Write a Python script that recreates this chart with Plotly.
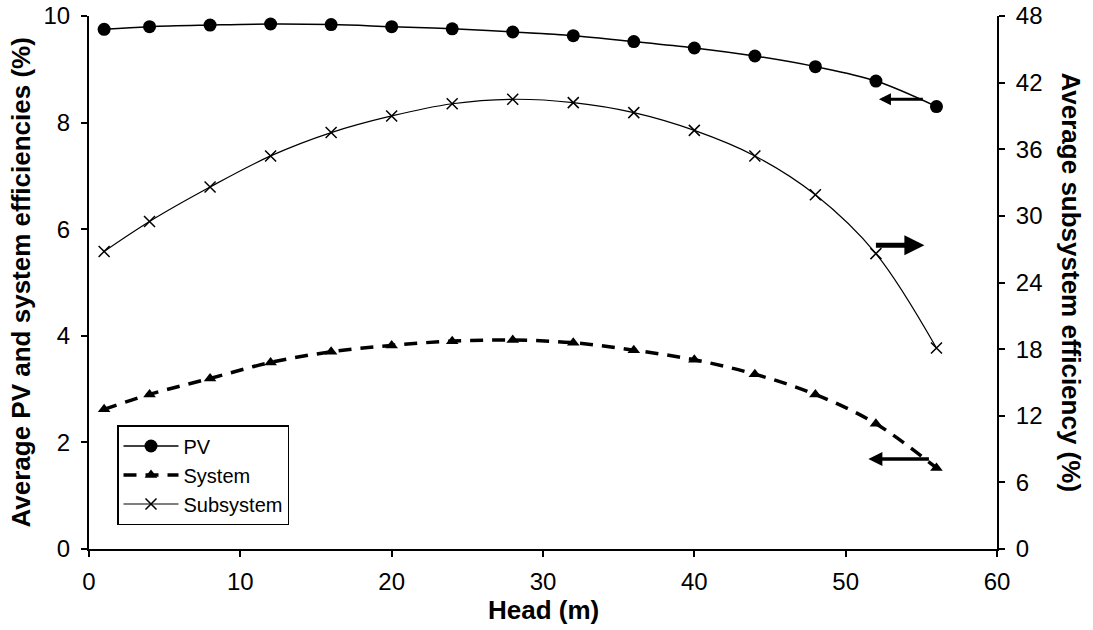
import plotly.graph_objects as go

head = [1, 4, 8, 12, 16, 20, 24, 28, 32, 36, 40, 44, 48, 52, 56]
pv = [9.75, 9.80, 9.83, 9.85, 9.84, 9.80, 9.76, 9.70, 9.63, 9.52, 9.40, 9.25, 9.05, 8.78, 8.30]
system = [2.62, 2.90, 3.20, 3.50, 3.70, 3.82, 3.90, 3.92, 3.87, 3.73, 3.55, 3.28, 2.90, 2.35, 1.52]
subsystem = [26.8, 29.5, 32.6, 35.4, 37.5, 39.0, 40.1, 40.5, 40.2, 39.3, 37.7, 35.4, 31.9, 26.6, 18.1]

x_ticks = [0, 10, 20, 30, 40, 50, 60]
y_ticks = [0, 2, 4, 6, 8, 10]
y2_ticks = [0, 6, 12, 18, 24, 30, 36, 42, 48]

FONT = "Liberation Sans, Arial, sans-serif"
TICK = 24
TITLE = 26

fig = go.Figure()
fig.add_trace(go.Scatter(
    x=head, y=pv, name="PV", mode="lines+markers",
    line=dict(color="black", width=1.5, shape="spline"),
    marker=dict(symbol="circle", size=13, color="black"),
))
fig.add_trace(go.Scatter(
    x=head, y=system, name="System", mode="lines+markers",
    line=dict(color="black", width=3.5, dash="13px,9px", shape="spline"),
    marker=dict(symbol="triangle-up", size=11, color="black"),
))
fig.add_trace(go.Scatter(
    x=head, y=subsystem, name="Subsystem", mode="lines+markers", yaxis="y2",
    line=dict(color="black", width=1.2, shape="spline"),
    marker=dict(symbol="x-thin", size=11, color="black",
                line=dict(color="black", width=1.5)),
))

# arrows pointing to the axis each curve belongs to
arrows = [
    dict(x=52.2, y=8.44, ax=55.2, ay=8.44, w=3),
    dict(x=55.2, y=5.70, ax=51.9, ay=5.70, w=5),
    dict(x=51.5, y=1.69, ax=55.6, ay=1.69, w=3.5),
]
for a in arrows:
    fig.add_annotation(
        x=a["x"], y=a["y"], ax=a["ax"], ay=a["ay"],
        xref="x", yref="y", axref="x", ayref="y",
        showarrow=True, arrowhead=2, arrowsize=0.8, arrowwidth=a["w"],
        arrowcolor="black", text="",
    )

fig.add_annotation(
    text="<b>Average PV and system efficiencies (%)</b>", textangle=-90,
    xref="paper", yref="paper", x=(20 - 89) / 908, y=0.5, xanchor="center", yanchor="middle",
    showarrow=False, font=dict(size=TITLE, color="black", family=FONT),
)
fig.add_annotation(
    text="<b>Average subsystem efficiency (%)</b>", textangle=90,
    xref="paper", yref="paper", x=(1071 - 89) / 908, y=0.5, xanchor="center", yanchor="middle",
    showarrow=False, font=dict(size=TITLE, color="black", family=FONT),
)
fig.add_annotation(
    text="<b>Head (m)</b>",
    xref="paper", yref="paper", x=0.5, y=(549 - 610) / 533, xanchor="center", yanchor="middle",
    showarrow=False, font=dict(size=TITLE, color="black", family=FONT),
)

axis_common = dict(
    showline=True, linecolor="black", linewidth=2,
    ticks="outside", ticklen=6, tickwidth=2, tickcolor="black",
    showgrid=False, zeroline=False, automargin=False,
    tickfont=dict(size=TICK, color="black", family=FONT),
)

fig.update_layout(
    width=1093, height=630,
    margin=dict(l=89, r=96, t=16, b=81),
    paper_bgcolor="white", plot_bgcolor="white",
    font=dict(family=FONT, color="black"),
    xaxis=dict(range=[0, 60], tickvals=x_ticks, ticklabelstandoff=4, **axis_common),
    yaxis=dict(range=[0, 10], tickvals=y_ticks, ticklabelstandoff=6, **axis_common),
    yaxis2=dict(range=[0, 48], tickvals=y2_ticks, overlaying="y", side="right",
                ticklabelstandoff=6, **axis_common),
    legend=dict(
        x=(117 - 89) / 908, y=(549 - 425) / 533, xanchor="left", yanchor="top",
        bordercolor="black", borderwidth=1.5, bgcolor="white",
        font=dict(size=20, color="black", family=FONT),
        itemwidth=55, tracegroupgap=0,
    ),
    showlegend=True,
)

fig.write_html("out.html")
